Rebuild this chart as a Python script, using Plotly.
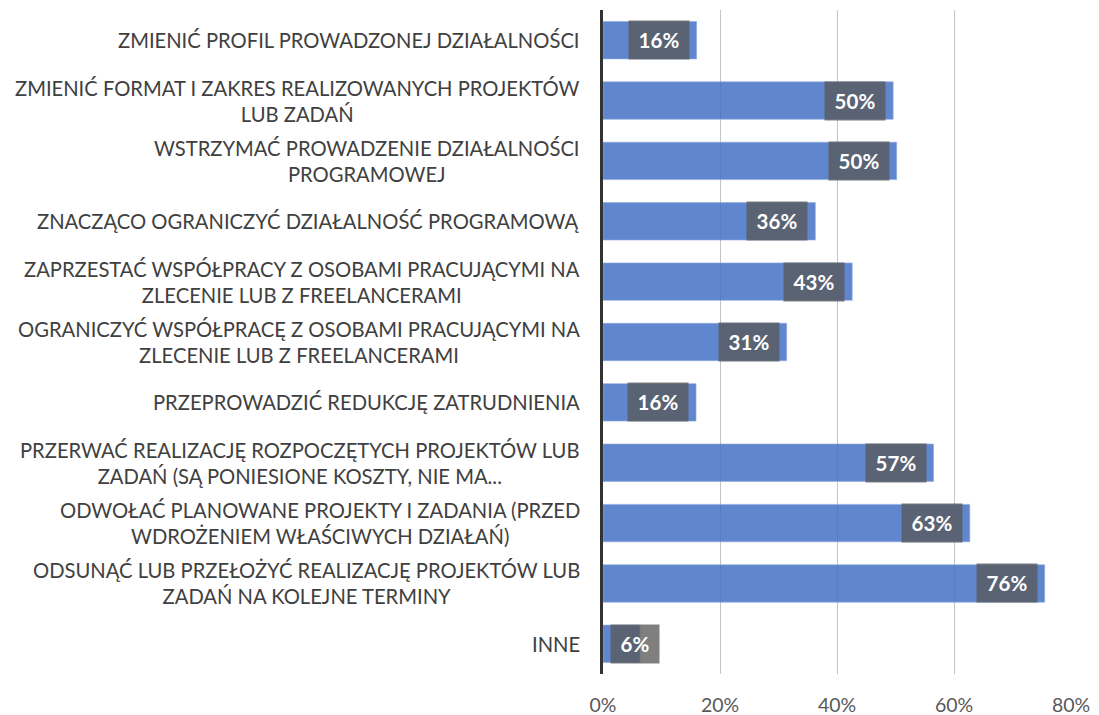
import plotly.graph_objects as go

categories = [
    "ZMIENIĆ PROFIL PROWADZONEJ DZIAŁALNOŚCI",
    "ZMIENIĆ FORMAT I ZAKRES REALIZOWANYCH PROJEKTÓW<br>LUB ZADAŃ",
    "WSTRZYMAĆ PROWADZENIE DZIAŁALNOŚCI<br>PROGRAMOWEJ",
    "ZNACZĄCO OGRANICZYĆ DZIAŁALNOŚĆ PROGRAMOWĄ",
    "ZAPRZESTAĆ WSPÓŁPRACY Z OSOBAMI PRACUJĄCYMI NA<br>ZLECENIE LUB Z FREELANCERAMI",
    "OGRANICZYĆ WSPÓŁPRACĘ Z OSOBAMI PRACUJĄCYMI NA<br>ZLECENIE LUB Z FREELANCERAMI",
    "PRZEPROWADZIĆ REDUKCJĘ ZATRUDNIENIA",
    "PRZERWAĆ REALIZACJĘ ROZPOCZĘTYCH PROJEKTÓW LUB<br>ZADAŃ (SĄ PONIESIONE KOSZTY, NIE MA...",
    "ODWOŁAĆ PLANOWANE PROJEKTY I ZADANIA (PRZED<br>WDROŻENIEM WŁAŚCIWYCH DZIAŁAŃ)",
    "ODSUNĄĆ LUB PRZEŁOŻYĆ REALIZACJĘ PROJEKTÓW LUB<br>ZADAŃ NA KOLEJNE TERMINY",
    "INNE",
]
values = [16.0, 49.6, 50.2, 36.3, 42.6, 31.4, 15.9, 56.5, 62.7, 75.5, 6.3]
labels = ["16%", "50%", "50%", "36%", "43%", "31%", "16%", "57%", "63%", "76%", "6%"]
tick_vals = [0, 20, 40, 60, 80]
tick_text = ["0%", "20%", "40%", "60%", "80%"]

FONT = "Lato"
n = len(categories)
ypos = list(range(n))

fig = go.Figure()
fig.add_trace(go.Bar(
    x=values, y=ypos, orientation="h",
    marker=dict(color="rgba(68,114,196,0.85)",
                line=dict(color="rgba(140,170,225,0.6)", width=1)),
    width=0.62, hoverinfo="skip",
))

annotations = []
for i, (v, lab, cat) in enumerate(zip(values, labels, categories)):
    w = 58 if len(lab) > 2 else 46
    if v < 10:
        annotations.append(dict(x=0, y=i, xref="x", yref="y", text="<b>%s</b>" % lab,
                                showarrow=False, xanchor="left", xshift=7,
                                width=w, height=36, bgcolor="rgba(89,89,89,0.77)",
                                font=dict(family=FONT, size=20.5, color="white")))
    else:
        annotations.append(dict(x=v, y=i, xref="x", yref="y", text="<b>%s</b>" % lab,
                                showarrow=False, xanchor="right", xshift=-7,
                                width=w, height=36, bgcolor="rgba(89,89,89,0.77)",
                                font=dict(family=FONT, size=20.5, color="white")))
    annotations.append(dict(x=0, y=i, xref="paper", yref="y", text=cat,
                            showarrow=False, xanchor="right", xshift=-21, align="center",
                            font=dict(family=FONT, size=20.2, color="#404040")))

fig.update_layout(
    width=1099, height=715,
    margin=dict(l=595, r=36, t=2, b=49),
    paper_bgcolor="white", plot_bgcolor="white",
    showlegend=False,
    annotations=annotations,
    xaxis=dict(range=[0, 80], tickvals=tick_vals, ticktext=tick_text,
               showgrid=True, gridcolor="#c4c4c4", gridwidth=1,
               zeroline=False, showline=False,
               ticks="outside", ticklen=14, tickcolor="rgba(0,0,0,0)",
               tickfont=dict(family=FONT, size=19.5, color="#595959")),
    yaxis=dict(range=[n - 0.5, -0.5], showticklabels=False, showgrid=False,
               zeroline=False, showline=True, linecolor="#333333", linewidth=3,
               ticks=""),
)

fig.write_html("out.html")
